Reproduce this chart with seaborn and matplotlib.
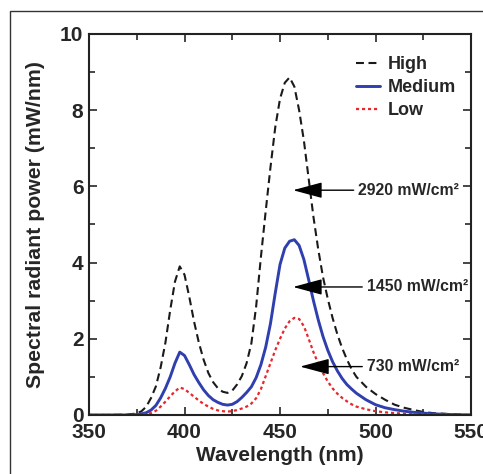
import numpy as np
import pandas as pd
import matplotlib
matplotlib.use("Agg")
import matplotlib.pyplot as plt
from matplotlib.patches import Rectangle
from matplotlib.ticker import MultipleLocator
import seaborn as sns

# wavelengths (nm), shared by the three curves
wavelength = [350, 360, 370, 375, 377.5, 380, 382.5, 385, 387.5, 390, 392.5, 395, 397.5,
              400, 402.5, 405, 407.5, 410, 412.5, 415, 417.5, 420, 422.5, 425, 427.5,
              430, 432.5, 435, 437.5, 440, 442.5, 445, 447.5, 450, 452.5, 455, 457.5,
              460, 462.5, 465, 467.5, 470, 472.5, 475, 477.5, 480, 482.5, 485, 487.5,
              490, 495, 500, 505, 510, 515, 520, 525, 530, 540, 550]

high = [0, 0, 0.01, 0.04, 0.1, 0.22, 0.45, 0.75, 1.25, 1.9, 2.75, 3.5, 3.9,
        3.68, 3.1, 2.45, 1.9, 1.45, 1.1, 0.86, 0.7, 0.61, 0.58, 0.64, 0.8,
        1.02, 1.36, 1.88, 2.85, 4.15, 5.35, 6.5, 7.55, 8.3, 8.72, 8.86, 8.62,
        8.0, 7.2, 6.2, 5.2, 4.35, 3.62, 3.05, 2.55, 2.12, 1.76, 1.46, 1.2,
        1.0, 0.74, 0.55, 0.4, 0.27, 0.19, 0.13, 0.08, 0.05, 0.02, 0]

medium = [0, 0, 0, 0.01, 0.03, 0.06, 0.13, 0.25, 0.45, 0.7, 1.0, 1.36, 1.65,
          1.56, 1.32, 1.06, 0.85, 0.66, 0.51, 0.4, 0.33, 0.28, 0.26, 0.28, 0.35,
          0.46, 0.59, 0.74, 0.98, 1.32, 1.78, 2.4, 3.2, 3.95, 4.38, 4.56, 4.6,
          4.45, 4.08, 3.55, 3.0, 2.5, 2.06, 1.7, 1.4, 1.16, 0.96, 0.8, 0.68,
          0.57, 0.4, 0.27, 0.19, 0.14, 0.1, 0.07, 0.05, 0.03, 0.01, 0]

low = [0, 0, 0, 0, 0.01, 0.02, 0.05, 0.11, 0.22, 0.35, 0.49, 0.62, 0.72,
       0.68, 0.58, 0.48, 0.38, 0.29, 0.22, 0.16, 0.12, 0.1, 0.09, 0.1, 0.13,
       0.17, 0.22, 0.3, 0.44, 0.68, 1.02, 1.36, 1.7, 2.0, 2.27, 2.46, 2.55,
       2.52, 2.33, 2.0, 1.65, 1.35, 1.1, 0.88, 0.7, 0.56, 0.45, 0.36, 0.28,
       0.22, 0.15, 0.1, 0.07, 0.05, 0.035, 0.02, 0.015, 0.01, 0.005, 0]

series_names = ["High", "Medium", "Low"]
annot_labels = ["2920 mW/cm²", "1450 mW/cm²", "730 mW/cm²"]
annot_tip = [(456.8, 5.9), (456.8, 3.36), (460.5, 1.27)]
annot_text_x = [491.0, 495.5, 495.5]

df = pd.DataFrame({"Wavelength": wavelength, "High": high, "Medium": medium, "Low": low})

sns.set_style("ticks")
plt.rcParams["font.family"] = ["Liberation Sans", "DejaVu Sans"]
plt.rcParams["font.weight"] = "bold"

fig = plt.figure(figsize=(4.83, 4.74), dpi=100)
ax = fig.add_axes([0.1843, 0.1245, 0.7909, 0.8038])

styles = {
    "High": dict(color="#1a1a1a", lw=1.5, dashes=(3.8, 2.2)),
    "Medium": dict(color="#2f3fae", lw=2.1),
    "Low": dict(color="#e8262c", lw=1.6, dashes=(1.4, 1.3)),
}
for name in series_names:
    st = styles[name]
    sns.lineplot(data=df, x="Wavelength", y=name, ax=ax, color=st["color"],
                 lw=st["lw"], label=name)
    if "dashes" in st:
        ax.lines[-1].set_dashes(st["dashes"])

ax.set_xlim(350, 550)
ax.set_ylim(0, 10)
ax.xaxis.set_major_locator(MultipleLocator(50))
ax.xaxis.set_minor_locator(MultipleLocator(25))
ax.yaxis.set_major_locator(MultipleLocator(2))
ax.yaxis.set_minor_locator(MultipleLocator(1))
ax.tick_params(which="both", direction="in", top=True, right=True, width=1.2)
ax.tick_params(which="major", length=6, labelsize=15)
ax.tick_params(axis="x", which="major", pad=5.5)
ax.tick_params(axis="y", which="major", pad=4)
ax.tick_params(which="minor", length=4)
for lab in ax.get_xticklabels() + ax.get_yticklabels():
    lab.set_fontweight("bold")
for sp in ax.spines.values():
    sp.set_linewidth(1.5)
    sp.set_color("#222222")

ax.set_xlabel("Wavelength (nm)", fontsize=15, fontweight="bold", labelpad=3)
ax.set_ylabel("Spectral radiant power (mW/nm)", fontsize=15.3, fontweight="bold", labelpad=11)

leg = ax.legend(loc="upper left", frameon=False, fontsize=13, handlelength=1.3,
                handletextpad=0.45, labelspacing=0.33, borderpad=0, borderaxespad=0,
                bbox_to_anchor=(0.70, 0.942))
for t in leg.get_texts():
    t.set_fontweight("bold")

for lab, tip, tx in zip(annot_labels, annot_tip, annot_text_x):
    ax.annotate(lab, xy=tip, xytext=(tx, tip[1]), ha="left", va="center",
                fontsize=11.3, fontweight="bold",
                arrowprops=dict(arrowstyle="-|>,head_length=1.3,head_width=0.35",
                                color="black", lw=1.0, mutation_scale=14,
                                shrinkA=1, shrinkB=0))

fig.patches.append(Rectangle((10 / 483, -0.05), 1.2, 1 - 11 / 474 + 0.05,
                             transform=fig.transFigure, fill=False,
                             edgecolor="#333333", lw=1.0))

fig.savefig("out.png", dpi=100)
